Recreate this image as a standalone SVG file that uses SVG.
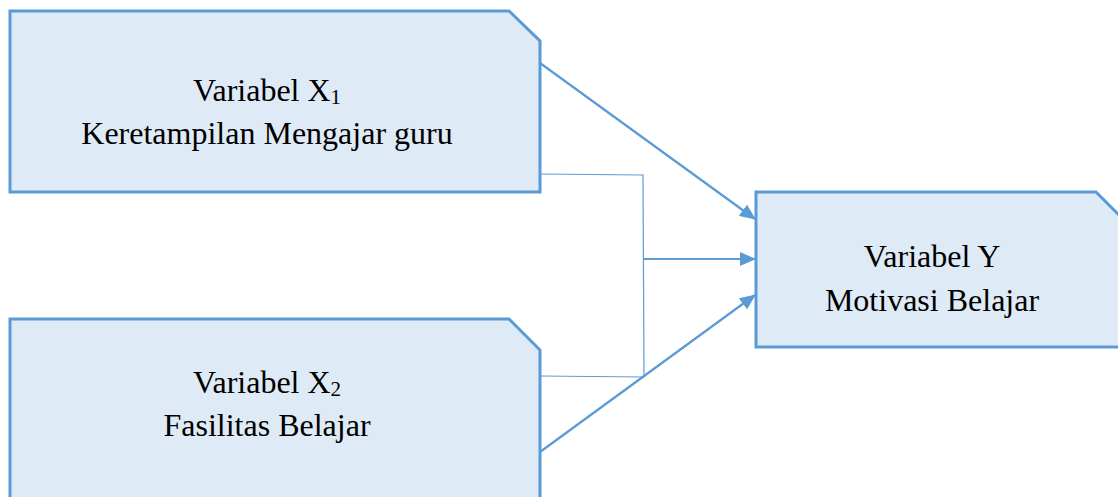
<svg xmlns="http://www.w3.org/2000/svg" width="1118" height="497" viewBox="0 0 1118 497">
<style>
.box{fill:#DEEAF6;stroke:#5B9BD5;stroke-width:3}
.t{font-family:"Liberation Serif","Times New Roman",serif;font-size:32px;fill:#000;text-anchor:middle}
.sub{font-size:21px}
.arr{stroke:#5B9BD5;stroke-width:2.2;fill:none}
.thin{stroke:#5B9BD5;stroke-width:1.2;fill:none}
</style>
<defs>
<marker id="ah" viewBox="0 0 16 14" refX="15" refY="7" markerWidth="16" markerHeight="14" markerUnits="userSpaceOnUse" orient="auto">
<path d="M0,0 L16,7 L0,14 Z" fill="#5B9BD5"/>
</marker>
</defs>
<g id="connectors">
<line class="arr" x1="540" y1="63" x2="755" y2="219" marker-end="url(#ah)"/>
<polyline class="thin" points="540,174 643,175 644,377 540,376"/>
<line class="arr" x1="643" y1="259" x2="755" y2="259" marker-end="url(#ah)"/>
<line class="arr" x1="540" y1="452" x2="755" y2="295" marker-end="url(#ah)"/>
</g>
<g id="nodeX1">
<path class="box" d="M10,11 L509,11 L540,41 L540,192 L10,192 Z"/>
<text class="t" x="267" y="101">Variabel X<tspan class="sub" dy="3">1</tspan></text>
<text class="t" x="267" y="144">Keretampilan Mengajar guru</text>
</g>
<g id="nodeX2">
<path class="box" d="M10,319 L509,319 L540,350 L540,500 L10,500 Z"/>
<text class="t" x="267" y="393">Variabel X<tspan class="sub" dy="3">2</tspan></text>
<text class="t" x="267" y="436">Fasilitas Belajar</text>
</g>
<g id="nodeY">
<path class="box" d="M756,192 L1096,192 L1120,216 L1120,347 L756,347 Z"/>
<text class="t" x="932" y="267">Variabel Y</text>
<text class="t" x="932" y="311">Motivasi Belajar</text>
</g>
</svg>
